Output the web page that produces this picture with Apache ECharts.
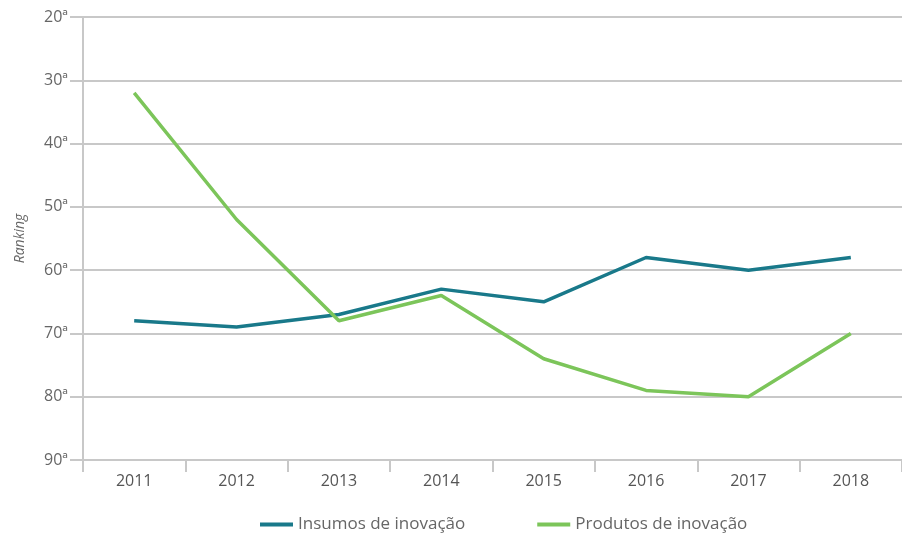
<!DOCTYPE html>
<html>
<head>
<meta charset="utf-8">
<script src="https://cdn.jsdelivr.net/npm/echarts@6/dist/echarts.min.js"></script>
<style>html,body{margin:0;padding:0;background:#fff}#c{width:902px;height:534px}</style>
</head>
<body>
<div id="c"></div>
<script>
const categories = ['2011','2012','2013','2014','2015','2016','2017','2018'];
const insumos = [68, 69, 67, 63, 65, 58, 60, 58];
const produtos = [32, 52, 68, 64, 74, 79, 80, 70];
const seriesNames = ['Insumos de inovação', 'Produtos de inovação'];

const chart = echarts.init(document.getElementById('c'));
chart.setOption({
  animation: false,
  textStyle: { fontFamily: 'Open Sans' },
  grid: { left: 83, right: -7, top: 17, bottom: 74, containLabel: false },
  legend: {
    top: 511, left: 255, itemGap: 72,
    itemWidth: 33, itemHeight: 4, icon: 'rect',
    textStyle: { color: '#666', fontSize: 17, fontFamily: 'Open Sans' },
    data: seriesNames
  },
  xAxis: {
    type: 'category', data: categories, boundaryGap: true,
    axisLine: { lineStyle: { color: '#c8c8c8', width: 2 } },
    axisTick: { show: true, length: 12, lineStyle: { color: '#c8c8c8', width: 2 } },
    axisLabel: { color: '#555', fontSize: 16, margin: 13 }
  },
  yAxis: {
    type: 'value', inverse: true, min: 20, max: 90, interval: 10,
    name: 'Ranking', nameLocation: 'middle', nameGap: 56,
    nameTextStyle: { fontStyle: 'italic', color: '#666', fontSize: 14 },
    axisLine: { show: true, lineStyle: { color: '#c8c8c8', width: 2 } },
    axisTick: { show: true, length: 13, lineStyle: { color: '#c8c8c8', width: 2 } },
    splitLine: { show: true, lineStyle: { color: '#c8c8c8', width: 2 } },
    axisLabel: { color: '#666', fontSize: 16, margin: 15, formatter: v => v + 'ª' }
  },
  series: [
    { name: seriesNames[0], type: 'line', data: insumos, symbol: 'none',
      lineStyle: { color: '#19798a', width: 3.5 }, itemStyle: { color: '#19798a' } },
    { name: seriesNames[1], type: 'line', data: produtos, symbol: 'none',
      lineStyle: { color: '#7cc55a', width: 3.5 }, itemStyle: { color: '#7cc55a' } }
  ]
});
</script>
</body>
</html>
